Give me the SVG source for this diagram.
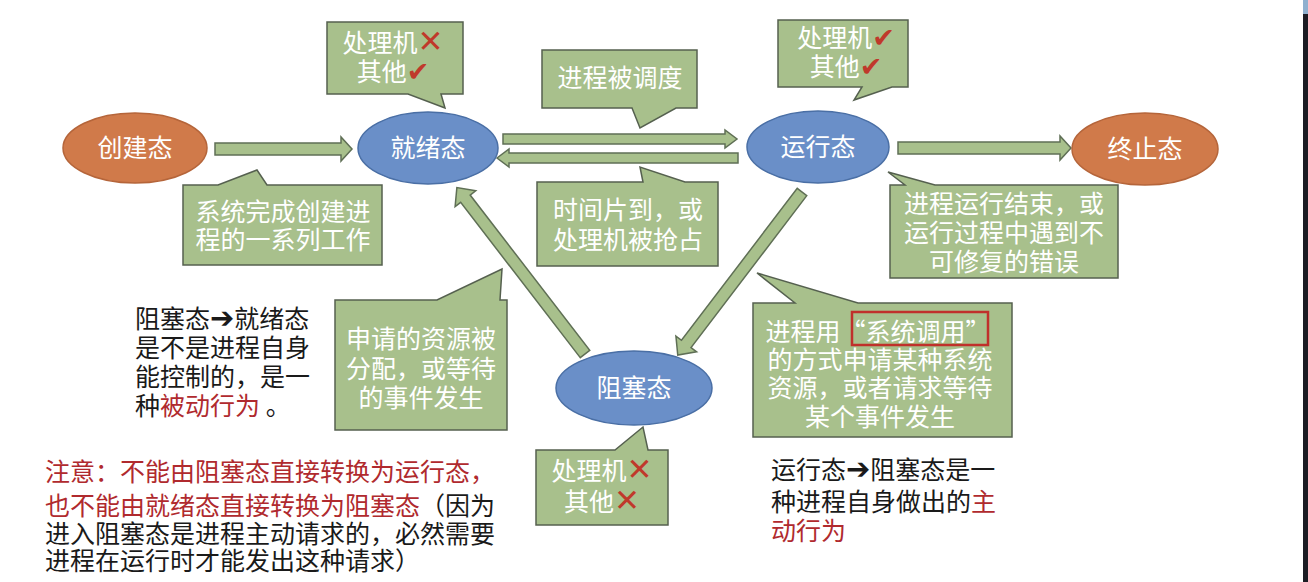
<svg xmlns="http://www.w3.org/2000/svg" width="1308" height="582" viewBox="0 0 1308 582">
<style>
text{font-family:"Noto Sans CJK SC","Noto Sans",sans-serif;font-size:25px}
.st{fill:#ffffff;text-anchor:middle}
.ct{fill:#ffffff;text-anchor:middle}
.blk{fill:#1a1a1a}
.red{fill:#b02a2e}
.mk{fill:#c0392b;font-family:"DejaVu Sans",sans-serif}
.x{font-size:31px}
.ck{font-size:27px;font-weight:bold}
.ar{font-family:"DejaVu Sans",sans-serif;font-size:29px}
.orange{fill:#d07a4a;stroke:#b5653a;stroke-width:1.5}
.blue{fill:#6a8fc8;stroke:#4a6fa5;stroke-width:1.5}
.callout{fill:#a8c08c;stroke:#55604f;stroke-width:1.5;stroke-linejoin:miter}
.arr{fill:#a8c08c;stroke:#5f6f55;stroke-width:1.5;stroke-linejoin:miter}
</style>
<rect x="0" y="0" width="1308" height="582" fill="#ffffff"/>
<rect x="1303" y="0" width="5" height="582" fill="#1c1c24"/>
<rect x="1303" y="0" width="5" height="14" fill="#8fb0cf"/>

<g id="connectors">
  <polygon class="arr" transform="translate(215,149)" points="0,-6 126,-6 126,-12 137,0 126,12 126,6 0,6"/>
  <polygon class="arr" transform="translate(503,139)" points="0,-5 222,-5 222,-9 234,0 222,9 222,5 0,5"/>
  <polygon class="arr" transform="translate(738,158) rotate(180)" points="0,-5 229,-5 229,-9 241,0 229,9 229,5 0,5"/>
  <polygon class="arr" transform="translate(898,148)" points="0,-6 162,-6 162,-12 173,0 162,12 162,6 0,6"/>
  <polygon class="arr" transform="translate(585,354) rotate(-127.6)" points="0,-6 196,-6 196,-13 210,0 196,13 196,6 0,6"/>
  <polygon class="arr" transform="translate(802,192) rotate(127.3)" points="0,-6 191,-6 191,-13 205,0 191,13 191,6 0,6"/>
</g>

<g id="node-create">
  <ellipse class="orange" cx="135" cy="148" rx="72" ry="35"/>
  <text class="st" x="135" y="157">创建态</text>
</g>
<g id="node-ready">
  <ellipse class="blue" cx="428" cy="148" rx="70" ry="36"/>
  <text class="st" x="428" y="157">就绪态</text>
</g>
<g id="node-running">
  <ellipse class="blue" cx="818" cy="147" rx="71" ry="36"/>
  <text class="st" x="818" y="156">运行态</text>
</g>
<g id="node-terminated">
  <ellipse class="orange" cx="1145" cy="149" rx="73" ry="36"/>
  <text class="st" x="1145" y="158">终止态</text>
</g>
<g id="node-blocked">
  <ellipse class="blue" cx="634" cy="388" rx="78" ry="37"/>
  <text class="st" x="634" y="397">阻塞态</text>
</g>

<g id="callout-ready-res">
  <path class="callout" d="M327,22 H463 V94 H441 L445,108 L408,94 H327 Z"/>
  <text class="ct" x="393" y="52">处理机<tspan class="mk x">✕</tspan></text>
  <text class="ct" x="393" y="81">其他<tspan class="mk ck">✔</tspan></text>
</g>
<g id="callout-dispatch">
  <path class="callout" d="M542,50 H697 V108 H676 L640,128 L632,108 H542 Z"/>
  <text class="ct" x="620" y="87">进程被调度</text>
</g>
<g id="callout-running-res">
  <path class="callout" d="M778,20 H908 V87 H892 L854,100 L862,87 H778 Z"/>
  <text class="ct" x="846" y="47">处理机<tspan class="mk ck">✔</tspan></text>
  <text class="ct" x="846" y="76">其他<tspan class="mk ck">✔</tspan></text>
</g>
<g id="callout-timeout">
  <path class="callout" d="M537,182 H643 L640,167 L685,182 H718 V266 H537 Z"/>
  <text class="ct" x="628" y="219">时间片到，或</text>
  <text class="ct" x="628" y="249">处理机被抢占</text>
</g>
<g id="callout-create">
  <path class="callout" d="M183,185 H218 L257,170 L267,185 H382 V265 H183 Z"/>
  <text class="ct" x="283" y="221">系统完成创建进</text>
  <text class="ct" x="283" y="249">程的一系列工作</text>
</g>
<g id="callout-terminate">
  <path class="callout" d="M890,185 H905 L888,172 L935,185 H1118 V278 H890 Z"/>
  <text class="ct" x="1004" y="213">进程运行结束，或</text>
  <text class="ct" x="1004" y="242">运行过程中遇到不</text>
  <text class="ct" x="1004" y="271">可修复的错误</text>
</g>
<g id="callout-wakeup">
  <path class="callout" d="M335,300 H437 L502,269 L500,300 H507 V430 H335 Z"/>
  <text class="ct" x="421" y="348">申请的资源被</text>
  <text class="ct" x="421" y="378">分配，或等待</text>
  <text class="ct" x="421" y="407">的事件发生</text>
</g>
<g id="callout-block">
  <path class="callout" d="M753,303 H795 L757,273 L858,303 H1012 V437 H753 Z"/>
  <rect x="852" y="312" width="136" height="33" fill="none" stroke="#c0302b" stroke-width="2.5"/>
  <text class="ct" x="878" y="341">进程用“系统调用”</text>
  <text class="ct" x="880" y="369">的方式申请某种系统</text>
  <text class="ct" x="880" y="397">资源，或者请求等待</text>
  <text class="ct" x="880" y="426">某个事件发生</text>
</g>
<g id="callout-blocked-res">
  <path class="callout" d="M536,450 H615 L643,427 L648,450 H668 V525 H536 Z"/>
  <text class="ct" x="602" y="480">处理机<tspan class="mk x">✕</tspan></text>
  <text class="ct" x="602" y="511">其他<tspan class="mk x">✕</tspan></text>
</g>

<g id="note-passive">
  <text class="blk" x="135" y="328">阻塞态<tspan class="ar">➔</tspan>就绪态</text>
  <text class="blk" x="135" y="357">是不是进程自身</text>
  <text class="blk" x="135" y="386">能控制的，是一</text>
  <text class="blk" x="135" y="415">种<tspan class="red">被动行为</tspan> 。</text>
</g>
<g id="note-warning">
  <text class="red" x="45" y="481">注意：不能由阻塞态直接转换为运行态，</text>
  <text class="red" x="45" y="515">也不能由就绪态直接转换为阻塞态<tspan class="blk">（因为</tspan></text>
  <text class="blk" x="45" y="543">进入阻塞态是进程主动请求的，必然需要</text>
  <text class="blk" x="45" y="570">进程在运行时才能发出这种请求）</text>
</g>
<g id="note-active">
  <text class="blk" x="771" y="479">运行态<tspan class="ar">➔</tspan>阻塞态是一</text>
  <text class="blk" x="771" y="511">种进程自身做出的<tspan class="red">主</tspan></text>
  <text class="red" x="771" y="540">动行为</text>
</g>
</svg>
